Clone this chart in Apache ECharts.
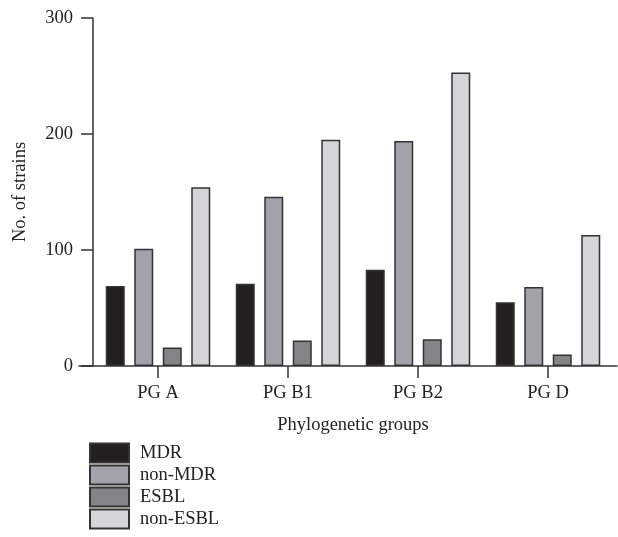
<!DOCTYPE html>
<html><head><meta charset="utf-8">
<script src="https://cdn.jsdelivr.net/npm/echarts@6/dist/echarts.min.js"></script>
<style>html,body{margin:0;padding:0;background:#fff}#c{width:618px;height:537px}</style>
</head><body><div id="c"></div>
<script>
const categories = ['PG A', 'PG B1', 'PG B2', 'PG D'];
const seriesNames = ['MDR', 'non-MDR', 'ESBL', 'non-ESBL'];
const mdr = [69, 71, 83, 55];
const nonMdr = [101, 146, 194, 68];
const esbl = [16, 22, 23, 10];
const nonEsbl = [154, 195, 253, 113];
const yTicks = [0, 100, 200, 300];
const colors = ['#231f20', '#a0a3aa', '#838487', '#d4d5d7'];
const font = 'Liberation Serif';
const ink = '#333';
const values = [mdr, nonMdr, esbl, nonEsbl];

const chart = echarts.init(document.getElementById('c'));
chart.setOption({
  animation: false,
  textStyle: { fontFamily: font },
  grid: [
    { left: 93, right: 5, top: 18, bottom: 171 },
    { left: 79, right: 1, top: 18, bottom: 171 }
  ],
  legend: {
    orient: 'vertical', left: 89, top: 442, padding: 0, height: 95,
    itemWidth: 39, itemHeight: 19, itemGap: 0,
    textStyle: { fontFamily: font, fontSize: 18.5, color: '#222', lineHeight: 22, padding: [0, 0, 0, 6] },
    data: seriesNames.map(n => ({ name: n, icon: 'rect' }))
  },
  xAxis: [{
    type: 'category', data: categories, gridIndex: 0,
    axisLine: { show: false },
    axisTick: { show: true, alignWithLabel: true, length: 12, lineStyle: { color: ink, width: 1.5 } },
    axisLabel: { fontFamily: font, fontSize: 18.5, color: '#222', margin: 18 },
    name: 'Phylogenetic groups', nameLocation: 'middle', nameGap: 50,
    nameTextStyle: { fontFamily: font, fontSize: 18.5, color: '#222' }
  }, {
    type: 'value', gridIndex: 1, min: 0, max: 1,
    axisLine: { show: true, lineStyle: { color: ink, width: 1.5 } },
    axisTick: { show: false }, axisLabel: { show: false }, splitLine: { show: false }
  }],
  yAxis: [{
    type: 'value', min: yTicks[0], max: yTicks[yTicks.length - 1], interval: 100, gridIndex: 0,
    axisLine: { show: true, lineStyle: { color: ink, width: 1.5 } },
    axisTick: { show: true, length: 12, lineStyle: { color: ink, width: 1.5 } },
    axisLabel: { fontFamily: font, fontSize: 18.5, color: '#222', margin: 20 },
    splitLine: { show: false },
    name: 'No. of strains', nameLocation: 'middle', nameGap: 63,
    nameTextStyle: { fontFamily: font, fontSize: 18.5, color: '#222' }
  }, {
    type: 'value', gridIndex: 1, min: 0, max: 1, show: false
  }],
  series: seriesNames.map((n, i) => ({
    name: n, type: 'bar', data: values[i], xAxisIndex: 0, yAxisIndex: 0,
    barWidth: 19, barGap: '50%',
    itemStyle: { color: colors[i], borderColor: ink, borderWidth: 1.5 }
  }))
});
</script></body></html>
